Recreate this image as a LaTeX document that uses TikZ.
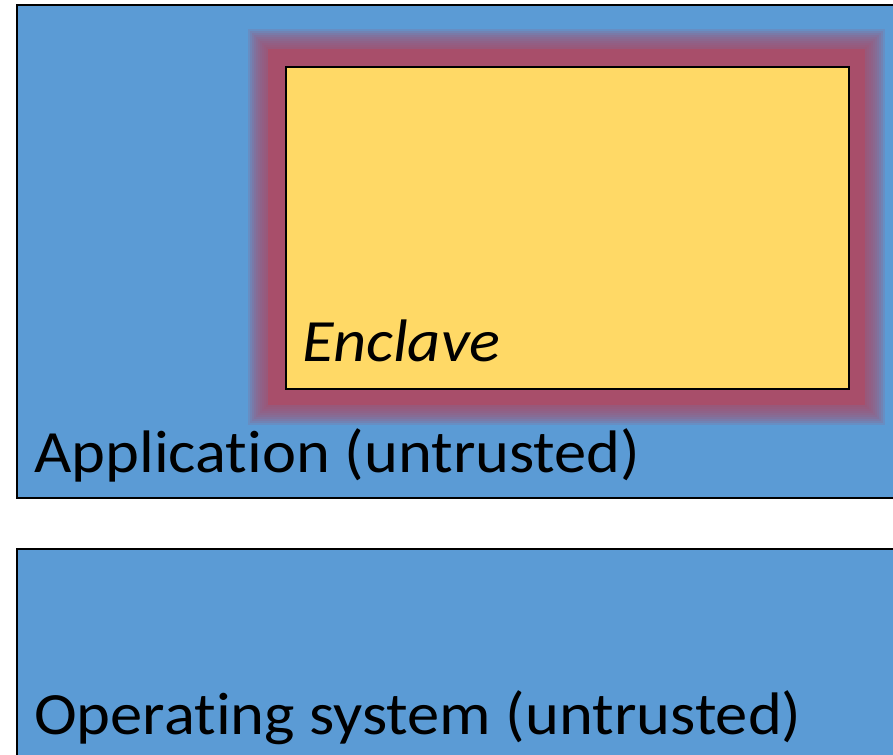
\documentclass[tikz,border=0pt]{standalone}
\usepackage{fontspec}
\setmainfont{Carlito}[Ligatures={NoCommon}]
\definecolor{layerblue}{HTML}{5B9BD5}
\definecolor{enclaveyellow}{HTML}{FFD966}
\definecolor{glowred}{HTML}{A84E6A}
\newcommand{\widetext}[1]{\scalebox{1.075}[1]{#1}}
\tikzset{
  x=1pt, y=-1pt,
  layerbox/.style={draw=black, line width=1.6pt, fill=layerblue},
  enclavebox/.style={draw=black, line width=1.6pt, fill=enclaveyellow},
  bigtext/.style={font=\fontsize{60}{72}\selectfont, anchor=base west, inner sep=0pt},
}
\begin{document}
\begin{tikzpicture}
  \useasboundingbox (0,0) rectangle (893,754);
  % untrusted layers
  \filldraw[layerbox] (17,5) rectangle (905,498);
  \filldraw[layerbox] (17,549) rectangle (905,770);
  % soft red halo round the enclave
  \foreach \d in {19,21,...,37} {
    \fill[glowred, fill opacity=0.16] (285-\d,66-\d) rectangle (848+\d,388+\d);
  }
  \fill[glowred] (285-17,66-17) rectangle (848+17,388+17);
  \node[enclavebox, anchor=north west, minimum width=563pt, minimum height=322pt, inner sep=0pt] (enclave) at (285,66) {};
  \node[bigtext, font=\fontsize{60}{72}\selectfont\itshape] (enclavelabel) at (302,361) {\widetext{Enclave}};
  \node[bigtext] (applabel) at (34,472) {\widetext{Application (untrusted)}};
  \node[bigtext] (oslabel) at (34,734) {\widetext{Operating system (untrusted)}};
\end{tikzpicture}
\end{document}
